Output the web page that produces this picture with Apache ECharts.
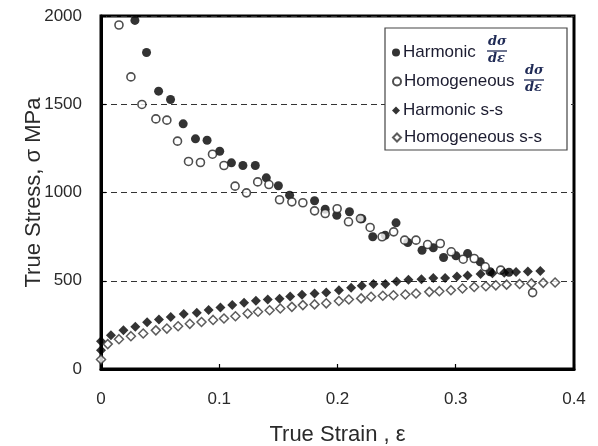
<!DOCTYPE html>
<html><head><meta charset="utf-8">
<script src="https://cdn.jsdelivr.net/npm/echarts@6/dist/echarts.min.js"></script>
<style>html,body{margin:0;padding:0;background:#fff}#c{width:598px;height:446px}</style>
</head><body><div id="c"></div>
<script>
// ---- data (strain, stress MPa) ----
const harmonicRate = [
[0.0287,1975],[0.0385,1793],[0.0487,1574],[0.0588,1527],[0.0695,1389],[0.0799,1304],[0.0897,1296],
[0.1004,1234],[0.1103,1168],[0.1200,1153],[0.1305,1153],[0.1398,1083],[0.1500,1038],[0.1595,985],
[0.1806,953],[0.1896,905],[0.1994,871],[0.2101,891],[0.2206,851],[0.2298,749],[0.2403,758],[0.2495,828],
[0.2594,717],[0.2715,673],[0.2810,687],[0.2897,632],[0.3002,641],[0.3100,654],[0.3207,607],[0.3290,551],
[0.3450,548]
];
const homogeneousRate = [
[0.0152,1949],[0.0253,1655],[0.0346,1499],[0.0464,1417],[0.0557,1410],[0.0647,1291],[0.0740,1176],
[0.0841,1170],[0.0943,1217],[0.1040,1153],[0.1134,1036],[0.1230,998],[0.1325,1060],[0.1420,1045],
[0.1510,959],[0.1614,947],[0.1707,942],[0.1806,896],[0.1896,881],[0.1997,908],[0.2093,834],[0.2194,852],
[0.2276,802],[0.2377,749],[0.2475,777],[0.2568,730],[0.2664,730],[0.2762,705],[0.2869,711],[0.2962,664],
[0.3063,622],[0.3156,626],[0.3249,579],[0.3380,560],[0.3650,433]
];
const harmonicSS = [
[0,106],[0,157],[0.0084,191],[0.019,220],[0.029,239],[0.039,265],[0.049,280],[0.059,294],[0.070,312],
[0.081,319],[0.091,334],[0.101,348],[0.111,363],[0.121,375],[0.131,387],[0.141,394],[0.151,398],
[0.160,411],[0.170,420],[0.1806,428],[0.1905,433],[0.2012,446],[0.2115,460],[0.2205,471],[0.2304,481],
[0.2405,482],[0.250,496],[0.260,505],[0.271,509],[0.281,515],[0.291,515],[0.301,524],[0.310,530],
[0.321,538],[0.331,542],[0.341,546],[0.351,550],[0.361,552],[0.3715,555]
];
const homogeneousSS = [
[0,54],[0.0057,141],[0.0152,169],[0.0253,186],[0.0357,201],[0.0464,219],[0.0557,229],[0.0652,242],
[0.0751,256],[0.085,266],[0.0948,278],[0.104,286],[0.1137,299],[0.124,314],[0.1328,324],[0.1426,333],
[0.1516,343],[0.1614,352],[0.1707,362],[0.1806,366],[0.1905,372],[0.2012,385],[0.2096,394],[0.2200,400],
[0.2284,409],[0.2383,415],[0.2473,418],[0.2574,422],[0.2664,428],[0.2776,437],[0.2861,441],[0.2959,446],
[0.3057,456],[0.3156,465],[0.3255,469],[0.3339,474],[0.343,478],[0.354,482],[0.364,485],[0.374,488],[0.384,490]
];
const xTicks = [0, 0.1, 0.2, 0.3, 0.4];
const yTicks = [0, 500, 1000, 1500, 2000];
const seriesNames = ['Harmonic dσ/dε','Homogeneous dσ/dε','Harmonic s-s','Homogeneous s-s'];
const legendLabels = ['Harmonic','Homogeneous','Harmonic s-s','Homogeneous s-s'];

const chart = echarts.init(document.getElementById('c'));
const txt = '#2a2a2a';
const legTop = [44, 73, 102, 129];
const legends = seriesNames.map((n,i)=>({
  data:[n], left:392, top:legTop[i], orient:'vertical', padding:0, z:10,
  itemWidth:8, itemHeight:8, itemGap:0,
  formatter: ()=>legendLabels[i],
  textStyle:{fontFamily:'Liberation Sans, Arial', fontSize:17, color:'#1c1c30', padding:[0,0,0,-2]}
}));
function frac(cx, yTop){
  return [
    {type:'text', z:11, left:cx-9, top:yTop, style:{text:'dσ', font:'italic bold 13px "DejaVu Serif", serif', fill:'#1f2a55'}},
    {type:'line', z:11, shape:{x1:cx-10,y1:yTop+16,x2:cx+10,y2:yTop+16}, style:{stroke:'#1f2a55', lineWidth:1.3}},
    {type:'text', z:11, left:cx-9, top:yTop+17, style:{text:'dε', font:'italic bold 13px "DejaVu Serif", serif', fill:'#1f2a55'}}
  ];
}
chart.setOption({
  animation:false,
  grid:{left:101, right:24, top:16, bottom:77, show:true, borderColor:'#000', borderWidth:3, outerBoundsMode:'none', containLabel:false},
  xAxis:{type:'value', min:xTicks[0], max:xTicks[xTicks.length-1], interval:xTicks[1]-xTicks[0],
    name:'True Strain , ε', nameLocation:'middle', nameGap:55, nameMoveOverlap:false,
    nameTextStyle:{fontFamily:'Liberation Sans, Arial', fontSize:22, color:txt},
    axisLine:{lineStyle:{color:'#000', width:3}},
    axisTick:{inside:true, length:5, lineStyle:{color:'#000', width:1.2}},
    axisLabel:{margin:22, fontFamily:'Liberation Sans, Arial', fontSize:17, color:txt,
      formatter: v => String(Math.round(v*10)/10)},
    splitLine:{show:false}},
  yAxis:{type:'value', min:yTicks[0], max:yTicks[yTicks.length-1], interval:yTicks[1]-yTicks[0],
    name:'True Stress, σ MPa', nameLocation:'middle', nameGap:56, nameMoveOverlap:false,
    nameTextStyle:{fontFamily:'Liberation Sans, Arial', fontSize:22, color:txt},
    axisLine:{lineStyle:{color:'#000', width:3}},
    axisTick:{inside:true, length:5, lineStyle:{color:'#000', width:1.2}},
    axisLabel:{margin:19, fontFamily:'Liberation Sans, Arial', fontSize:17, color:txt,
      formatter: v => String(v)},
    splitLine:{show:true, lineStyle:{color:'#333', type:[6,4], width:1.2}}},
  legend: legends,
  graphic:[
    {type:'rect', z:5, shape:{x:385, y:28, width:182, height:122}, style:{fill:'#fff', stroke:'#444', lineWidth:1.2}},
    ...frac(497, 35), ...frac(534, 64)
  ],
  series:[
    {name:seriesNames[0], type:'scatter', data:harmonicRate, symbol:'circle', symbolSize:9, itemStyle:{color:'#000'}},
    {name:seriesNames[1], type:'scatter', data:homogeneousRate, symbol:'circle', symbolSize:8, itemStyle:{color:'#fff', borderColor:'#222', borderWidth:1.6}},
    {name:seriesNames[2], type:'scatter', data:harmonicSS, symbol:'diamond', symbolSize:10, itemStyle:{color:'#000'}},
    {name:seriesNames[3], type:'scatter', data:homogeneousSS, symbol:'diamond', symbolSize:9, itemStyle:{color:'#fff', borderColor:'#333', borderWidth:1.5}}
  ]
});
</script></body></html>
